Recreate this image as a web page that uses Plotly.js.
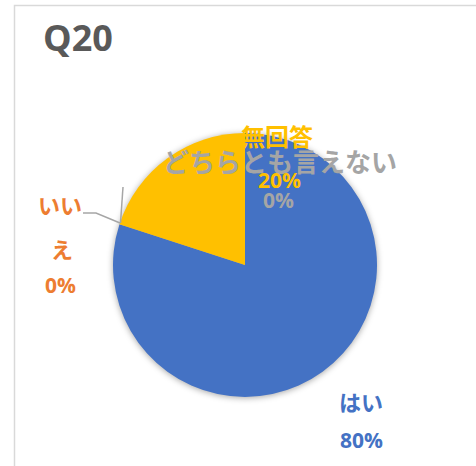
<!DOCTYPE html>
<html>
<head>
<meta charset="utf-8">
<script src="https://cdn.plot.ly/plotly-3.0.1.min.js"></script>
<style>
html,body{margin:0;padding:0;background:#fff;}
#chart{width:476px;height:466px;}
.pielayer{filter:drop-shadow(0px 1px 3px rgba(0,0,0,0.35));}
</style>
</head>
<body>
<div id="chart"></div>
<script>
// Data
var categories = ["はい", "いいえ", "どちらとも言えない", "無回答"];
var values = [80, 0, 0, 20];
var colors = ["#4472C4", "#ED7D31", "#A5A5A5", "#FFC000"];
var chartTitle = "Q20";

var W = 476, H = 466;
function px(x){ return x / W; }
function py(y){ return 1 - y / H; }

// Pie geometry (pixels)
var cx = 245, cy = 265, r = 132;

var total = values.reduce(function(a,b){return a+b;},0);
var pct = values.map(function(v){ return Math.round(v/total*100) + "%"; });

// Label layout (pixel positions); category text lines, then percent
var labelPos = [
  {name: [[361, 402]], pct: [361, 440], size: 22},
  {name: [[60, 205, "いい"], [62, 249, "え"]], pct: [61, 285], size: 22},
  {name: [[280, 162]], pct: [278, 200], size: 26},
  {name: [[277, 136]], pct: [279, 180], size: 24}
];

var annotations = [];
categories.forEach(function(cat, i){
  var lp = labelPos[i];
  lp.name.forEach(function(p){
    annotations.push({
      xref:"paper", yref:"paper", x: px(p[0]), y: py(p[1]),
      xanchor:"center", yanchor:"middle", showarrow:false,
      text: "<b>" + (p[2] || cat) + "</b>",
      font:{family:"Open Sans, Noto Sans CJK JP", size: lp.size, color: colors[i]}
    });
  });
  annotations.push({
    xref:"paper", yref:"paper", x: px(lp.pct[0]), y: py(lp.pct[1]),
    xanchor:"center", yanchor:"middle", showarrow:false,
    text: "<b>" + pct[i] + "</b>",
    font:{family:"Open Sans, Noto Sans CJK JP", size: 21, color: colors[i]}
  });
});

var shapes = [
  // chart area border
  {type:"rect", xref:"paper", yref:"paper", x0: px(14.5), x1: px(490), y0: py(490), y1: py(5.5),
   line:{color:"#D9D9D9", width:1.5}, fillcolor:"rgba(0,0,0,0)", layer:"below"},
  // leader lines
  {type:"path", xref:"paper", yref:"paper",
   path: "M " + px(83) + "," + py(213) + " L " + px(96) + "," + py(213) + " L " + px(120) + "," + py(223),
   line:{color:"#A6A6A6", width:1.5}},
  {type:"line", xref:"paper", yref:"paper", x0: px(123), y0: py(187), x1: px(120.5), y1: py(223),
   line:{color:"#A6A6A6", width:1.5}}
];

var trace = {
  type: "pie",
  labels: categories,
  values: values,
  marker: {colors: colors, line: {width: 0}},
  sort: false,
  direction: "clockwise",
  rotation: 0,
  textinfo: "none",
  hoverinfo: "skip",
  domain: {x: [px(cx - r), px(cx + r)], y: [py(cy + r), py(cy - r)]}
};

var layout = {
  width: W, height: H,
  margin: {l:0, r:0, t:0, b:0},
  paper_bgcolor: "#ffffff",
  showlegend: false,
  title: {
    text: "<b>" + chartTitle + "</b>",
    x: px(43), xanchor: "left", xref: "paper",
    y: py(38), yanchor: "middle", yref: "paper",
    font: {family: "Open Sans, Noto Sans CJK JP", size: 36, color: "#595959"}
  },
  annotations: annotations,
  shapes: shapes
};

Plotly.newPlot("chart", [trace], layout, {displayModeBar:false, staticPlot:true});
</script>
</body>
</html>
